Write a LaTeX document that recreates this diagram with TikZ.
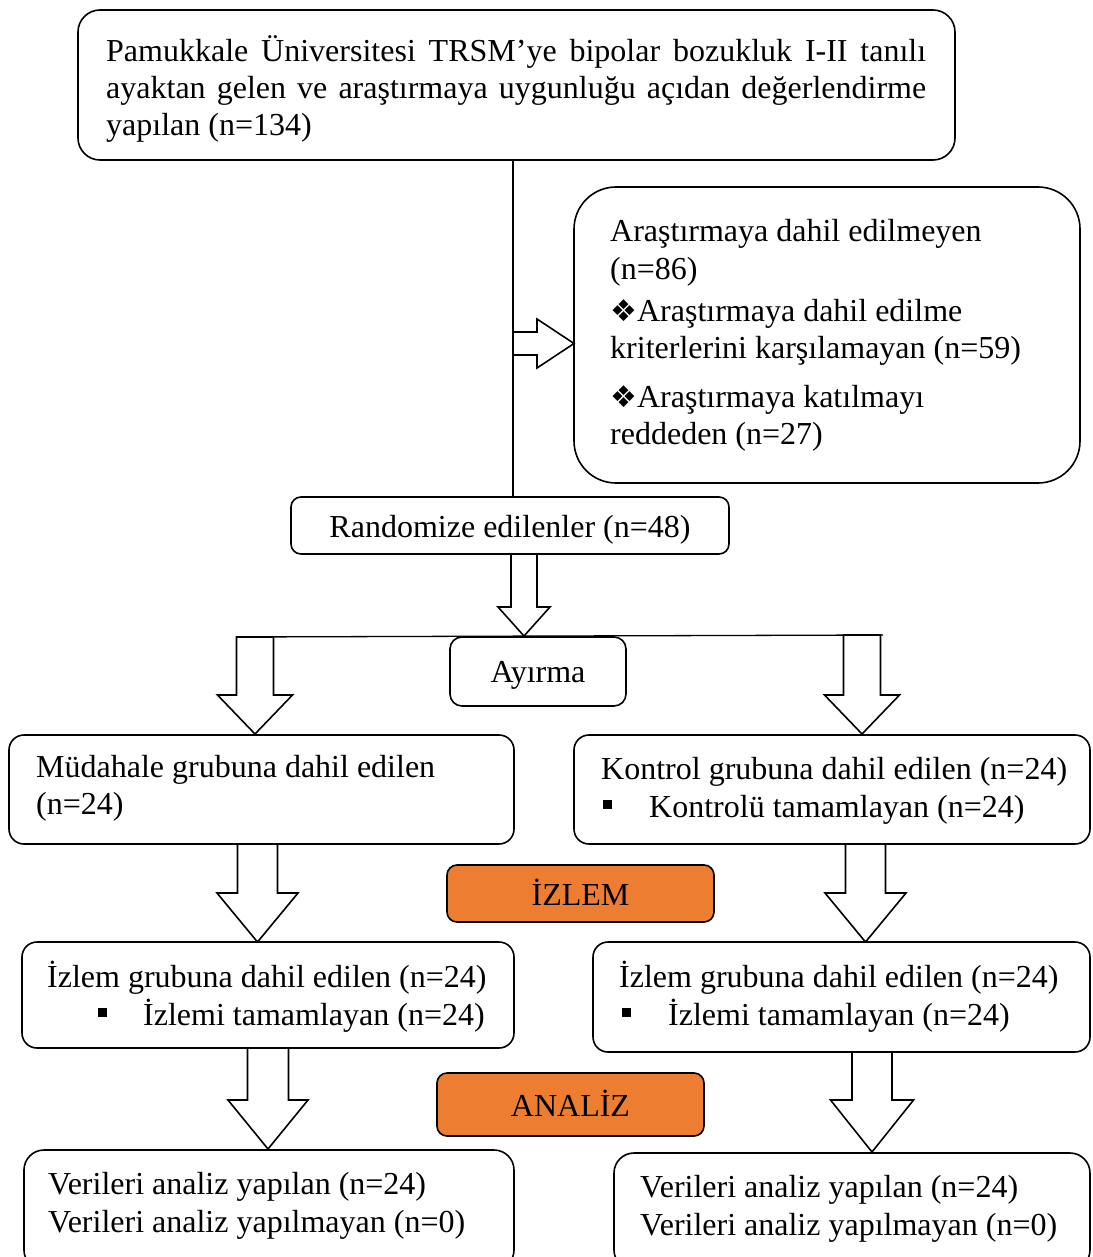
\documentclass[tikz,border=0pt]{standalone}
\usepackage{fontspec}
\setmainfont{Liberation Serif}
\newfontfamily\symfont{DejaVu Sans}
\definecolor{tagorange}{HTML}{ED7D31}
\tikzset{
  box/.style={draw, line width=1.6pt, rounded corners=#1, outer sep=0pt, inner sep=0pt, fill=white},
  box/.default=15pt,
  txt/.style={anchor=base west, inner sep=0pt, font=\fontsize{32}{37}\selectfont},
  ctxt/.style={anchor=base, inner sep=0pt, font=\fontsize{32}{37}\selectfont},
  barrow/.style={draw, line width=1.6pt, fill=white, line join=miter},
  conn/.style={line width=1.6pt},
  tag/.style={box=10pt, fill=tagorange}
}
\newcommand\bdown[6]{% cx, ytop, yhead, ytip, shaft half, head half
  \draw[barrow] ({#1-#5},#2) -- ({#1-#5},#3) -- ({#1-#6},#3) -- (#1,#4) -- ({#1+#6},#3) -- ({#1+#5},#3) -- ({#1+#5},#2) -- cycle;}
\newcommand\sqb{\rule[8pt]{9pt}{9pt}}
\newcommand\dia{{\symfont\fontsize{30}{30}\selectfont ❖}}
\begin{document}
\begin{tikzpicture}[x=1pt,y=-1pt]
\useasboundingbox (0,0) rectangle (1092,1257);
% boxes
\node[box=22pt, minimum width=877pt, minimum height=150pt] (top) at (516.5,85) {};
\node[box=42pt, minimum width=506pt, minimum height=296pt] (excl) at (827,335) {};
\node[box=10pt, minimum width=438pt, minimum height=57pt] (rand) at (510,525.5) {};
\node[box, minimum width=505pt, minimum height=109pt] (mud) at (261.5,789.5) {};
\node[box, minimum width=516pt, minimum height=109pt] (kont) at (832,789.5) {};
\node[tag, minimum width=267pt, minimum height=57pt] (izlemtag) at (580.5,893.5) {};
\node[box, minimum width=492pt, minimum height=106pt] (izlL) at (268,995) {};
\node[box, minimum width=497pt, minimum height=110pt] (izlR) at (841.5,997) {};
\node[tag, minimum width=267pt, minimum height=63pt] (analiztag) at (570.5,1104.5) {};
\node[box=20pt, minimum width=490pt, minimum height=120pt] (verL) at (269,1210) {};
\node[box=20pt, minimum width=476pt, minimum height=117pt] (verR) at (852,1211.5) {};

% spine and right block arrow
\coordinate (spine) at (513,0);
\draw[conn] (top.south -| spine) -- (rand.north -| spine);
\draw[barrow] (513,332) -- (537,332) -- (537,319) -- (excl.west |- 0,343.5) -- (537,368) -- (537,355) -- (513,355) -- cycle;

% split
\coordinate (splitL) at (236,637);
\coordinate (splitR) at (883,635);
\draw[line width=1.3pt] (splitL) -- (splitR);
\node[box=12pt, minimum width=176pt, minimum height=69pt] (ayirma) at (538,671.5) {};

% block arrows
\bdown{524}{554}{607}{636}{13}{26}
\bdown{255}{637}{695}{734}{18.5}{37.5}
\bdown{862}{635}{695}{734}{18.5}{37.5}
\bdown{257.5}{844}{893}{942}{20}{40.5}
\bdown{865.5}{844}{893}{942}{20}{40.5}
\bdown{268}{1048}{1100}{1149}{20.5}{40}
\bdown{872}{1052}{1100}{1152}{20}{41.5}

% texts
\node[txt] (t1) at (106,62) {\makebox[820pt][s]{Pamukkale Üniversitesi TRSM’ye bipolar bozukluk I-II tanılı}};
\node[txt] (t2) at (106,99) {\makebox[820pt][s]{ayaktan gelen ve araştırmaya uygunluğu açıdan değerlendirme}};
\node[txt] (t3) at (106,136) {yapılan (n=134)};

\node[txt] (e1) at (610,242) {Araştırmaya dahil edilmeyen};
\node[txt] (e2) at (610,279) {(n=86)};
\node[txt] (e3) at (610,321) {\dia Araştırmaya dahil edilme};
\node[txt] (e4) at (610,358) {kriterlerini karşılamayan (n=59)};
\node[txt] (e5) at (610,407) {\dia Araştırmaya katılmayı};
\node[txt] (e6) at (610,444) {reddeden (n=27)};

\node[ctxt] (rt) at (510,537) {Randomize edilenler (n=48)};
\node[ctxt] (at) at (538,682) {Ayırma};

\node[txt] (m1) at (36,777) {Müdahale grubuna dahil edilen};
\node[txt] (m2) at (36,814) {(n=24)};
\node[txt] (k1) at (601,779) {Kontrol grubuna dahil edilen (n=24)};
\node[txt] (kb) at (603,817) {\sqb};
\node[txt] (k2) at (649,817) {Kontrolü tamamlayan (n=24)};

\node[ctxt] (it) at (580.5,905) {İZLEM};

\node[txt] (l1) at (47,987) {İzlem grubuna dahil edilen (n=24)};
\node[txt] (lb) at (98,1025) {\sqb};
\node[txt] (l2) at (143,1025) {İzlemi tamamlayan (n=24)};
\node[txt] (r1) at (619,987) {İzlem grubuna dahil edilen (n=24)};
\node[txt] (rb) at (622,1025) {\sqb};
\node[txt] (r2) at (668,1025) {İzlemi tamamlayan (n=24)};

\node[ctxt] (ant) at (570.5,1116) {ANALİZ};

\node[txt] (v1) at (48,1194) {Verileri analiz yapılan (n=24)};
\node[txt] (v2) at (48,1232) {Verileri analiz yapılmayan (n=0)};
\node[txt] (w1) at (640,1197) {Verileri analiz yapılan (n=24)};
\node[txt] (w2) at (640,1235) {Verileri analiz yapılmayan (n=0)};
\end{tikzpicture}
\end{document}
